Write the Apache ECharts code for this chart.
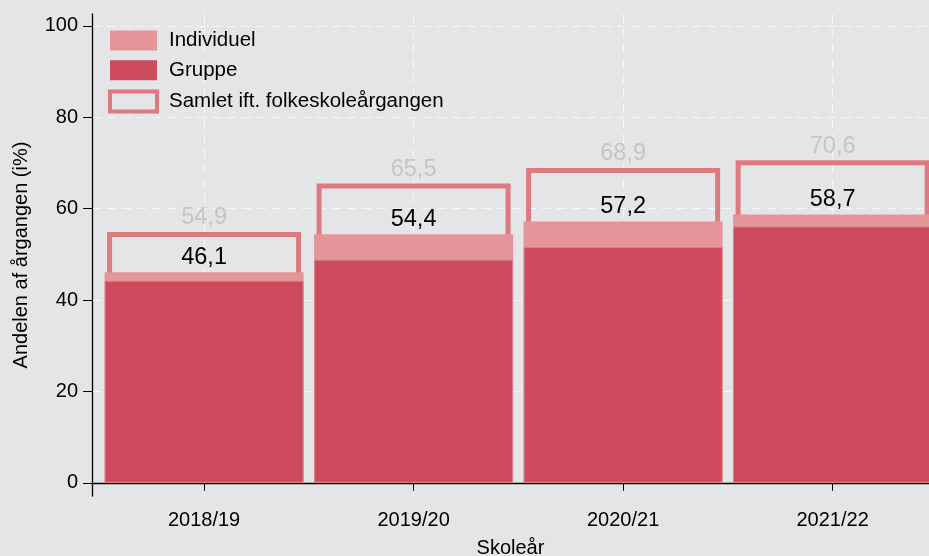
<!DOCTYPE html>
<html>
<head>
<meta charset="utf-8">
<script src="https://cdn.jsdelivr.net/npm/echarts@6/dist/echarts.min.js"></script>
<style>
  html, body { margin: 0; padding: 0; background: #e4e5e7; }
  #chart { width: 929px; height: 556px; }
</style>
</head>
<body>
<div id="chart"></div>
<script>
// data
const skoleaar = ['2018/19', '2019/20', '2020/21', '2021/22']
const xPos = [1, 2, 3, 4]
const gruppe = [44.2, 48.8, 51.6, 56.1]
const individuel = [1.9, 5.6, 5.6, 2.6]
const samlet = [54.9, 65.5, 68.9, 70.6]
const yTicks = [0, 20, 40, 60, 80, 100]

const font = "'Liberation Sans', Arial, sans-serif"
const komma = v => v.toFixed(1).replace('.', ',')
const grid = { color: '#f6f6f6', width: 1.2, type: [9, 6] }
// individuel sits on top of gruppe, so its bar runs up to the sum
const ialt = gruppe.map((g, i) => +(g + individuel[i]).toFixed(1))

const chart = echarts.init(document.getElementById('chart'))

chart.setOption({
  backgroundColor: '#e4e5e7',
  textStyle: { fontFamily: font },
  animation: false,
  grid: { left: 92, right: 0, top: 14, bottom: 60, outerBoundsMode: 'none', containLabel: false },
  legend: {
    orient: 'vertical',
    left: 108,
    top: 30,
    padding: 0,
    icon: 'rect',
    itemWidth: 47,
    itemHeight: 20,
    itemGap: 8.7,
    textStyle: { fontSize: 20.5, lineHeight: 20, color: '#000', padding: [0, 0, 0, 7] },
    data: [
      { name: 'Individuel', itemStyle: { borderWidth: 0 } },
      { name: 'Gruppe', itemStyle: { borderWidth: 0 } },
      { name: 'Samlet ift. folkeskoleårgangen', itemStyle: { borderWidth: 4 } }
    ]
  },
  xAxis: [
    {
      type: 'value',
      min: 0.465,
      max: 4.46,
      name: 'Skoleår',
      nameLocation: 'middle',
      nameGap: 42,
      nameTextStyle: { fontSize: 20, color: '#000' },
      axisLine: { show: true, lineStyle: { color: '#000', width: 1.3 } },
      axisTick: { show: true, customValues: xPos, length: 8, lineStyle: { color: '#000' } },
      axisLabel: {
        customValues: xPos,
        formatter: v => skoleaar[v - 1],
        fontSize: 20, color: '#000', margin: 14
      },
      splitLine: { show: true, lineStyle: grid }
    },
    { type: 'value', min: 0.465, max: 4.46, show: false }
  ],
  yAxis: {
    type: 'value',
    min: -2.9,
    max: 102.6,
    name: 'Andelen af årgangen (i%)',
    nameLocation: 'middle',
    nameGap: 61,
    nameTextStyle: { fontSize: 20, color: '#000' },
    axisLine: { show: true, lineStyle: { color: '#000', width: 1.3 } },
    axisTick: { show: true, customValues: yTicks, length: 9, lineStyle: { color: '#000' } },
    axisLabel: { customValues: yTicks, fontSize: 20, color: '#000', margin: 14 },
    splitLine: { show: true, lineStyle: grid }
  },
  series: [
    {
      name: 'Samlet ift. folkeskoleårgangen',
      type: 'bar',
      xAxisIndex: 1,
      barWidth: 194,
      data: xPos.map((x, i) => [x, samlet[i]]),
      itemStyle: { color: 'rgba(0,0,0,0)', borderColor: '#de7982', borderWidth: 5 },
      label: {
        show: true, position: 'top', distance: 2,
        fontSize: 23.5, color: '#c6c6c6',
        formatter: p => komma(samlet[p.dataIndex])
      }
    },
    {
      name: 'Individuel',
      type: 'bar',
      barWidth: 199,
      barGap: '-100%',
      data: xPos.map((x, i) => [x, ialt[i]]),
      itemStyle: { color: '#e3959a' },
      label: {
        show: true, position: 'top', distance: 3,
        fontSize: 23.5, color: '#000',
        formatter: p => komma(ialt[p.dataIndex])
      }
    },
    {
      name: 'Gruppe',
      type: 'bar',
      barWidth: 199,
      barGap: '-100%',
      data: xPos.map((x, i) => [x, gruppe[i]]),
      itemStyle: { color: '#cc4a5c', borderColor: '#d8808a', borderWidth: 1 }
    }
  ]
})
</script>
</body>
</html>
